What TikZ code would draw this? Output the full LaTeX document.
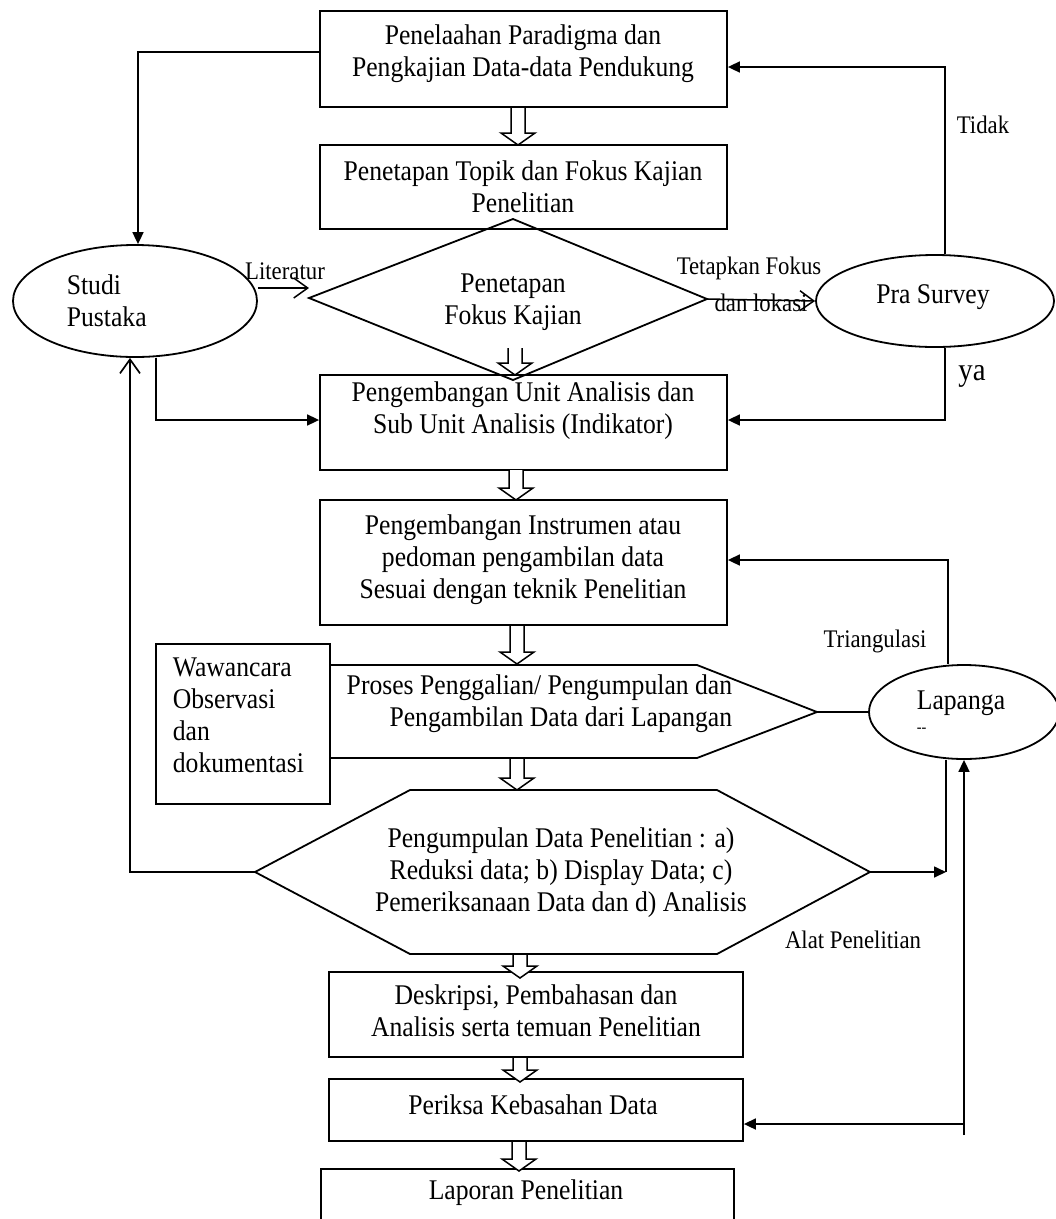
\documentclass[tikz,border=0pt]{standalone}
\usepackage{fontspec}
\setmainfont{Liberation Serif}[FakeStretch=0.9]
\usetikzlibrary{arrows.meta,shapes.geometric}
\newcommand\hollowarr[3]{%
  \draw[fill=white, line width=1.5pt, line join=miter]
    (#1-7,#2) -- (#1-7,#3-12) -- (#1-17,#3-12) -- (#1,#3) -- (#1+17,#3-12) -- (#1+7,#3-12) -- (#1+7,#2);}
\begin{document}
\begin{tikzpicture}[x=1pt,y=-1pt, line width=1.7pt,
  box/.style={draw, line width=1.8pt, inner sep=0pt},
  ell/.style={draw, ellipse, line width=1.8pt, inner sep=0pt},
  txt/.style={align=center, font=\fontsize{28.5}{32}\selectfont, inner sep=0pt},
  lbl/.style={font=\fontsize{25.3}{28}\selectfont, inner sep=0pt},
  fa/.style={-{Triangle[length=12pt,width=11pt]}},
  oa/.style={-{Straight Barb[length=14pt,width=20pt]}},
]
\useasboundingbox (0,0) rectangle (1056,1219);
\fill[white] (0,0) rectangle (1056,1219);
\clip (0,0) rectangle (1056,1219);

% boxes
\node[box, minimum width=407pt, minimum height=96pt] (b1) at (523.5,59) {};
\node[txt] (t1) at (523,54) {Penelaahan Paradigma dan\\Pengkajian Data-data Pendukung};
\node[box, minimum width=407pt, minimum height=84pt] (b2) at (523.5,187) {};
\node[txt] (t2) at (523,187) {Penetapan Topik dan Fokus Kajian\\Penelitian};
\node[box, minimum width=407pt, minimum height=95pt] (b3) at (523.5,422.5) {};
\node[txt] (t3) at (523,411) {Pengembangan Unit Analisis dan\\Sub Unit Analisis (Indikator)};
\node[box, minimum width=407pt, minimum height=125pt] (b4) at (523.5,562.5) {};
\node[txt] (t4) at (523,560) {Pengembangan Instrumen atau\\pedoman pengambilan data\\Sesuai dengan teknik Penelitian};
\node[box, minimum width=174pt, minimum height=160pt] (waw) at (243,724) {};
\node[txt, align=left, anchor=west] (tw) at (172,715) {Wawancara\\Observasi\\dan\\dokumentasi};
\node[box, minimum width=414pt, minimum height=85pt] (des) at (536,1014.5) {};
\node[txt] (td) at (536,1011) {Deskripsi, Pembahasan dan\\Analisis serta temuan Penelitian};
\node[box, minimum width=414pt, minimum height=62pt] (per) at (536,1110) {};
\node[txt] (tp) at (533,1105) {Periksa Kebasahan Data};
\node[box, minimum width=413pt, minimum height=71pt] (lap2) at (527.5,1204.5) {};
\node[txt] (tl) at (526,1193) {Laporan Penelitian};

% ellipses
\node[ell, minimum width=244pt, minimum height=112pt] (studi) at (135,301) {};
\node[txt, align=left, anchor=west] (ts) at (66,301) {Studi\\Pustaka};
\node[ell, minimum width=238pt, minimum height=92pt] (pra) at (935,301) {};
\node[txt] (tpra) at (933,297) {Pra Survey};
\node[ell, minimum width=190pt, minimum height=94pt] (lap) at (964,712) {};
\node[txt] (tlap) at (961,703) {Lapanga};
\node[font=\fontsize{16}{16}\selectfont, inner sep=0pt, anchor=west] (tdash) at (916,730) {-{}-};

% diamond
\coordinate (dl) at (309,298);
\coordinate (dt) at (513,219);
\coordinate (dr) at (707,299);
\coordinate (db) at (513,380);
\draw[line width=1.8pt] (dl) -- (dt) -- (dr) -- (db) -- cycle;
\node[txt] (tdia) at (513,302) {Penetapan\\Fokus Kajian};

% proses shape
\coordinate (p1) at (330,665);
\coordinate (p2) at (697,665);
\coordinate (pp) at (817,712);
\coordinate (p4) at (697,758);
\coordinate (p5) at (330,758);
\draw[line width=1.8pt] (p1) -- (p2) -- (pp) -- (p4) -- (p5);
\node[txt, align=right, anchor=east] (tpro) at (733,704) {Proses Penggalian/ Pengumpulan dan\\Pengambilan Data dari Lapangan};

% hexagon
\coordinate (h1) at (410,790);
\coordinate (h2) at (717,790);
\coordinate (hr) at (870,872);
\coordinate (h4) at (717,954);
\coordinate (h5) at (410,954);
\coordinate (hl) at (255,872);
\draw[line width=1.8pt] (h1) -- (h2) -- (hr) -- (h4) -- (h5) -- (hl) -- cycle;
\node[txt] (thex) at (561,873) {Pengumpulan Data Penelitian : a)\\Reduksi data; b) Display Data; c)\\Pemeriksanaan Data dan d) Analisis};

% connectors
\draw[fa] ([yshift=7pt]b1.west) -| ([xshift=3pt]studi.north);
\draw[fa] ([xshift=21pt]studi.south) |- ([yshift=2.5pt]b3.west);
\draw[oa, line width=1.5pt] ([yshift=13pt]studi.east) -- ([yshift=10pt]dl);
\node[lbl] (llit) at (285,271) {Literatur};
\draw[oa, line width=1.5pt] (dr) -- (pra.west);
\node[lbl] (ltet) at (749,268) {Tetapkan Fokus};
\node[lbl] (ldan) at (761,303) {dan lokasi};
\draw[fa] ([xshift=10pt]pra.north) |- ([yshift=-8pt]b1.east);
\node[lbl] (ltid) at (983,125) {Tidak};
\draw[fa] ([xshift=10pt]pra.south) |- ([yshift=2.5pt]b3.east);
\node[font=\fontsize{32}{32}\selectfont, inner sep=0pt] (lya) at (972,376) {ya};
\draw[fa] ([xshift=-16pt]lap.north) |- ([yshift=2.5pt]b4.east);
\node[lbl] (ltri) at (875,641) {Triangulasi};
\draw (pp) -- (lap.west);
\draw[oa, line width=1.7pt] (hl) -| ([xshift=-5pt]studi.south);
\coordinate (j1) at (946,872);
\draw[fa] (hr) -- (j1);
\draw ([xshift=-18pt]lap.south) -- (j1);
\coordinate (j2) at (964,1135);
\coordinate (j3) at (964,1124);
\draw[fa] (j2) -- (lap.south);
\draw[fa] (j3) -- (per.east |- j3);
\node[lbl] (lalat) at (853,940) {Alat Penelitian};

% hollow arrows
\hollowarr{518}{108}{145}
\hollowarr{515}{348}{375}
\hollowarr{516}{470}{500}
\hollowarr{517}{626}{664}
\hollowarr{517}{759}{790}
\hollowarr{520}{955}{978}
\hollowarr{520}{1058}{1082}
\hollowarr{519}{1142}{1171}
\end{tikzpicture}
\end{document}
